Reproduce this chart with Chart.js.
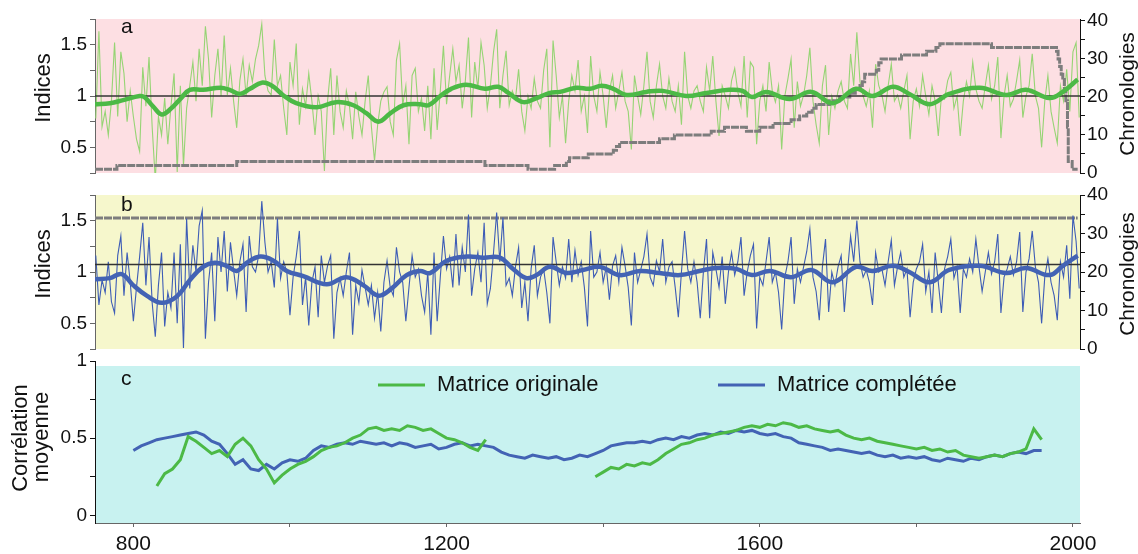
<!DOCTYPE html>
<html>
<head>
<meta charset="utf-8">
<script src="https://cdn.jsdelivr.net/npm/chart.js@4.4.1/dist/chart.umd.min.js"></script>
<style>
  html, body { margin: 0; padding: 0; background: #fff; }
  #wrap { position: relative; width: 1138px; height: 554px; overflow: hidden; }
  #wrap canvas { position: absolute; left: 0; }
</style>
</head>
<body>
<div id="wrap">
  <canvas id="panelA" width="1138" height="200" style="top:0px"></canvas>
  <canvas id="panelB" width="1138" height="190" style="top:180px"></canvas>
  <canvas id="panelC" width="1138" height="209" style="top:345px"></canvas>
</div>
<script>
// ---- data ----
// ring-width indices, one value every 4 years from 752
const indexStart = 752;
const indexStep = 4;

// panel a: original matrix
const origIndex = [
  0.78, 1.63, 0.70, 0.85, 0.62, 0.95, 1.52, 0.80, 1.43, 1.22,
  0.75, 1.05, 0.80, 0.58, 0.46, 1.28, 0.90, 1.38, 0.70, 0.18,
  0.80, 0.62, 0.98, 0.53, 0.90, 1.22, 0.26, 1.10, 0.32, 0.88,
  1.10, 1.33, 0.95, 1.46, 1.10, 1.68, 1.36, 0.79, 1.20, 1.46,
  1.00, 1.59, 1.01, 1.27, 0.95, 0.69, 1.15, 1.36, 1.00, 1.30,
  1.14, 1.36, 1.49, 1.70, 1.20, 1.05, 1.01, 1.55, 1.10, 1.20,
  0.88, 0.62, 1.33, 1.10, 1.51, 0.72, 1.07, 0.90, 1.22, 0.95,
  0.62, 1.00, 0.85, 0.27, 0.95, 1.27, 0.62, 1.20, 0.85, 0.69,
  1.05, 0.90, 0.58, 1.04, 0.80, 0.62, 0.95, 1.20, 0.70, 0.37,
  0.72, 0.95, 1.04, 1.09, 0.75, 0.62, 1.35, 1.51, 0.91, 1.10,
  0.53, 1.20, 1.27, 0.85, 0.98, 0.66, 1.10, 0.58, 1.27, 0.67,
  1.05, 1.49, 0.92, 1.20, 1.46, 1.14, 1.30, 0.88, 1.15, 1.57,
  0.79, 1.33, 1.07, 1.52, 1.30, 0.88, 1.10, 1.43, 1.65, 0.88,
  1.20, 1.44, 0.91, 1.05, 0.97, 1.26, 0.85, 0.66, 1.00, 0.88,
  1.17, 0.95, 0.88, 1.25, 1.46, 0.50, 1.54, 1.20, 0.79, 1.00,
  0.54, 0.95, 1.20, 1.05, 1.35, 0.85, 1.00, 0.64, 1.39, 1.00,
  0.85, 1.23, 1.00, 0.69, 1.05, 1.20, 0.88, 1.05, 1.23, 0.95,
  0.85, 0.48, 1.20, 1.00, 0.82, 1.10, 1.43, 0.95, 0.79, 1.10,
  1.31, 1.00, 0.88, 1.17, 0.95, 0.85, 1.10, 0.72, 1.43, 1.00,
  0.88, 1.05, 1.10, 0.95, 0.85, 1.28, 1.05, 1.39, 0.95, 0.61,
  1.10, 1.00, 0.88, 1.15, 1.27, 1.04, 0.90, 1.39, 0.79, 1.33,
  1.28, 0.53, 0.95, 1.10, 0.85, 1.33, 1.05, 0.94, 1.10, 0.48,
  1.00, 1.17, 1.36, 0.69, 1.14, 0.90, 1.01, 1.20, 1.47, 0.95,
  0.72, 0.54, 1.10, 1.30, 0.62, 1.00, 0.88, 1.05, 1.14, 0.95,
  0.88, 1.41, 1.10, 1.62, 1.14, 1.00, 0.90, 1.05, 0.69, 1.31,
  1.10, 1.01, 0.85, 1.10, 1.31, 0.95, 1.01, 0.88, 1.05, 1.20,
  0.58, 0.95, 1.07, 0.90, 1.20, 1.00, 0.82, 1.10, 0.95, 0.61,
  1.00, 0.97, 1.15, 1.23, 0.88, 1.00, 0.61, 0.95, 1.14, 1.00,
  1.33, 1.07, 0.95, 0.88, 1.10, 1.30, 0.97, 1.10, 1.38, 0.59,
  1.00, 1.20, 0.90, 0.97, 1.15, 1.35, 0.79, 1.00, 1.10, 1.41,
  1.00, 0.88, 0.50, 0.95, 1.20, 0.85, 0.69, 0.54, 1.10, 0.95,
  1.26, 0.85, 1.43, 1.52, 0.79
];

// panel b: completed matrix
const fullIndex = [
  1.16, 0.68, 0.92, 0.80, 1.10, 0.71, 0.60, 1.16, 1.35, 0.77,
  1.19, 0.90, 0.52, 0.85, 1.15, 1.48, 0.87, 1.34, 0.70, 0.37,
  0.87, 1.19, 0.47, 0.80, 0.65, 1.19, 0.50, 1.27, 0.26, 1.52,
  0.84, 1.26, 1.00, 1.45, 1.60, 0.35, 0.90, 1.19, 0.52, 1.34,
  1.00, 1.40, 0.81, 1.29, 1.02, 0.77, 1.10, 1.27, 0.61, 1.35,
  1.05, 1.00, 1.16, 1.69, 1.29, 1.00, 1.10, 0.85, 1.52, 0.94,
  1.10, 1.00, 0.58, 0.95, 1.15, 1.40, 0.68, 0.95, 0.48, 0.90,
  1.05, 0.56, 1.16, 0.90, 1.06, 1.16, 0.35, 0.80, 0.94, 0.77,
  1.00, 1.19, 0.39, 0.87, 0.70, 1.02, 0.85, 0.68, 0.87, 0.55,
  0.80, 0.42, 0.90, 1.11, 0.85, 0.77, 1.24, 1.00, 0.90, 0.52,
  0.85, 1.16, 0.95, 1.03, 0.77, 0.61, 1.00, 0.39, 1.19, 0.52,
  0.95, 1.35, 1.03, 1.15, 0.85, 1.37, 0.87, 1.24, 1.00, 1.56,
  0.77, 1.03, 1.19, 0.90, 1.48, 0.69, 0.84, 1.19, 1.58, 1.10,
  1.53, 0.87, 0.94, 0.77, 1.05, 1.24, 0.65, 0.90, 0.52, 1.03,
  1.26, 0.77, 0.95, 1.03, 0.80, 0.50, 1.34, 1.10, 0.87, 1.05,
  0.94, 1.32, 0.90, 1.21, 0.97, 1.10, 0.85, 0.47, 1.40, 0.95,
  1.00, 1.19, 0.90, 1.05, 0.73, 1.06, 1.16, 0.90, 1.24, 1.06,
  0.85, 0.48, 1.19, 0.90, 1.02, 1.15, 1.37, 0.95, 0.87, 1.11,
  1.00, 1.32, 0.90, 1.05, 1.10, 0.85, 0.56, 1.00, 1.40, 1.03,
  0.90, 1.10, 0.90, 0.55, 1.00, 1.32, 0.55, 1.19, 1.03, 0.85,
  1.15, 0.69, 1.00, 1.19, 0.97, 1.10, 1.34, 0.77, 1.00, 1.16,
  1.27, 0.45, 0.95, 0.87, 1.10, 1.34, 0.90, 1.00, 0.80, 0.44,
  0.95, 1.10, 1.34, 0.69, 1.03, 0.90, 1.05, 1.20, 1.42, 0.95,
  0.81, 0.53, 1.05, 1.32, 0.61, 1.00, 0.87, 1.05, 1.16, 0.61,
  1.00, 1.35, 1.10, 1.50, 1.10, 0.95, 1.02, 0.90, 0.68, 1.19,
  1.00, 1.03, 0.87, 1.10, 1.31, 0.87, 1.05, 1.19, 0.95, 1.03,
  0.56, 0.90, 1.03, 1.10, 1.27, 0.81, 1.00, 0.60, 1.19, 0.90,
  0.60, 1.03, 1.15, 1.32, 0.94, 1.05, 0.60, 1.03, 0.95, 1.13,
  1.00, 1.32, 1.05, 0.81, 1.00, 1.19, 0.98, 1.10, 1.37, 0.60,
  0.95, 1.03, 1.15, 0.97, 1.10, 1.39, 0.61, 1.00, 1.13, 1.40,
  1.05, 0.90, 0.50, 0.95, 1.13, 0.90, 0.77, 0.53, 1.10, 0.95,
  1.26, 0.74, 1.55, 1.30, 0.84
];

// smoothed curves
const origSmoothYears = [751, 770, 787, 808, 814, 825, 836, 847, 861, 872, 889, 911, 923, 936, 949, 964, 977, 991,
  1008, 1034, 1059, 1081, 1098, 1113, 1128, 1145, 1166, 1177, 1192, 1206, 1225, 1249, 1266, 1279, 1298, 1315,
  1332, 1345, 1366, 1383, 1398, 1413, 1430, 1455, 1476, 1506, 1532, 1561, 1578, 1590, 1608, 1638, 1666, 1693,
  1723, 1744, 1770, 1791, 1817, 1842, 1881, 1915, 1940, 1970, 1987, 2006];
const origSmooth = [0.92, 0.93, 0.96, 1.00, 0.99, 0.90, 0.82, 0.87, 0.98, 1.06, 1.06, 1.08, 1.06, 1.02, 1.07, 1.13, 1.10, 1.01,
  0.93, 0.89, 0.94, 0.91, 0.83, 0.75, 0.83, 0.91, 0.92, 0.91, 1.00, 1.07, 1.11, 1.07, 1.09, 1.03, 0.94, 0.98,
  1.03, 1.04, 1.08, 1.07, 1.10, 1.07, 1.01, 1.04, 1.05, 1.00, 1.03, 1.06, 1.05, 0.99, 1.04, 0.97, 1.04, 0.93,
  1.07, 1.00, 1.09, 1.02, 0.92, 1.02, 1.08, 1.01, 1.06, 0.98, 1.04, 1.16];

const fullSmoothYears = [751, 770, 785, 800, 817, 836, 855, 872, 889, 904, 919, 932, 945, 962, 979, 996,
  1017, 1047, 1072, 1094, 1113, 1130, 1149, 1166, 1179, 1200, 1226, 1247, 1268, 1285, 1302, 1315, 1332, 1353,
  1374, 1396, 1421, 1447, 1472, 1498, 1523, 1545, 1570, 1590, 1613, 1640, 1666, 1693, 1723, 1744, 1770, 1791,
  1817, 1842, 1881, 1915, 1940, 1970, 1987, 2006];
const fullSmooth = [0.93, 0.94, 0.98, 0.87, 0.77, 0.70, 0.76, 0.92, 1.05, 1.09, 1.06, 1.01, 1.09, 1.15, 1.11, 1.01,
  0.96, 0.88, 0.95, 0.87, 0.77, 0.84, 0.97, 1.01, 0.99, 1.11, 1.15, 1.14, 1.14, 1.03, 0.94, 0.97, 1.05, 0.99,
  1.02, 1.05, 0.97, 1.01, 0.99, 0.97, 1.01, 1.04, 1.03, 0.97, 1.01, 0.95, 1.02, 0.90, 1.05, 1.01, 1.06, 1.00,
  0.90, 1.02, 1.06, 0.99, 1.04, 0.97, 1.06, 1.16];

// number of chronologies (right axis)
const chronYears = [751, 779, 932, 1249, 1304, 1338, 1353, 1357, 1381, 1413, 1417, 1421, 1472, 1491, 1538, 1555,
  1583, 1600, 1617, 1640, 1651, 1660, 1667, 1672, 1689, 1702, 1715, 1722, 1728, 1731, 1734, 1749, 1752, 1755,
  1781, 1813, 1825, 1830, 1896, 1979, 1981, 1983, 1985, 1987, 1989, 1991, 1993, 1994, 1999, 2006];
const chronOrig = [1, 2, 3, 2, 1, 2, 3, 4, 5, 6, 7, 8, 9, 10, 11, 12,
  11, 12, 13, 14, 15, 16, 17, 18, 19, 20, 21, 22, 23, 24, 26, 27, 29, 30,
  31, 32, 33, 34, 33, 32, 30, 28, 26, 25, 22, 19, 12, 3, 1, 1];
const chronFullYears = [751, 2006];
const chronFull = [34, 34];

// reference levels
const refYears = [751, 2009];
const refOrig = [1, 1];
const refFull = [1.074, 1.074];

// panel c: running mean inter-series correlation
const corrFullStart = 800;
const corrFull = [
  0.42, 0.45, 0.47, 0.49, 0.50, 0.51, 0.52, 0.53, 0.54, 0.52,
  0.48, 0.46, 0.40, 0.33, 0.36, 0.30, 0.29, 0.33, 0.30, 0.34,
  0.36, 0.35, 0.37, 0.42, 0.45, 0.44, 0.46, 0.47, 0.46, 0.48,
  0.47, 0.46, 0.47, 0.45, 0.47, 0.46, 0.44, 0.45, 0.46, 0.43,
  0.44, 0.46, 0.47, 0.45, 0.46, 0.45, 0.44, 0.41, 0.39, 0.38,
  0.37, 0.39, 0.38, 0.37, 0.38, 0.36, 0.37, 0.39, 0.38, 0.40,
  0.42, 0.45, 0.46, 0.47, 0.47, 0.48, 0.47, 0.49, 0.50, 0.49,
  0.51, 0.50, 0.52, 0.53, 0.52, 0.54, 0.53, 0.55, 0.54, 0.55,
  0.53, 0.52, 0.53, 0.51, 0.50, 0.47, 0.46, 0.45, 0.44, 0.42,
  0.43, 0.42, 0.41, 0.40, 0.41, 0.39, 0.38, 0.39, 0.37, 0.38,
  0.37, 0.38, 0.36, 0.35, 0.37, 0.36, 0.35, 0.37, 0.36, 0.38,
  0.39, 0.38, 0.40, 0.41, 0.40, 0.42, 0.42
];
const corrOrigEarlyStart = 830;
const corrOrigEarly = [
  0.19, 0.27, 0.30, 0.36, 0.51, 0.48, 0.44, 0.40, 0.42, 0.38,
  0.46, 0.50, 0.45, 0.36, 0.30, 0.21, 0.26, 0.30, 0.33, 0.35,
  0.38, 0.42, 0.44, 0.45, 0.47, 0.50, 0.52, 0.56, 0.57, 0.55,
  0.56, 0.55, 0.58, 0.57, 0.55, 0.56, 0.53, 0.50, 0.49, 0.47,
  0.44, 0.42, 0.49
];
const corrOrigLateStart = 1390;
const corrOrigLate = [
  0.25, 0.28, 0.31, 0.30, 0.33, 0.32, 0.34, 0.33, 0.36, 0.40,
  0.43, 0.46, 0.47, 0.49, 0.50, 0.52, 0.53, 0.54, 0.55, 0.57,
  0.58, 0.57, 0.59, 0.58, 0.60, 0.59, 0.57, 0.58, 0.56, 0.55,
  0.54, 0.55, 0.52, 0.50, 0.49, 0.50, 0.48, 0.47, 0.46, 0.45,
  0.44, 0.43, 0.44, 0.42, 0.43, 0.41, 0.42, 0.39, 0.38, 0.37,
  0.38, 0.39, 0.38, 0.40, 0.41, 0.43, 0.56, 0.49
];
const corrStep = 10;

// axis ticks
const indexTicks = [0.25, 0.5, 0.75, 1, 1.25, 1.5, 1.75];
const indexLabels = [0.5, 1, 1.5];
const chronTicks = [0, 5, 10, 15, 20, 25, 30, 35, 40];
const chronLabels = [0, 10, 20, 30, 40];
const corrTicks = [0, 0.25, 0.5, 0.75, 1];
const corrLabels = [0, 0.5, 1];
const yearTicks = [800, 1000, 1200, 1400, 1600, 1800, 2000];
const yearLabels = [800, 1200, 1600, 2000];

// ---- helpers ----
const FONT = "'Liberation Sans', Arial, Helvetica, sans-serif";
Chart.defaults.font.family = FONT;
Chart.defaults.color = '#111';

const bySteps = (start, step, values) => values.map((v, i) => ({ x: start + i * step, y: v }));
const byPairs = (xs, ys) => xs.map((x, i) => ({ x: x, y: ys[i] }));

const COLORS = {
  greenThin: '#96d474',
  green: '#4cb946',
  blueThin: '#3d5cb6',
  blue: '#4363b4',
  gray: '#7d7d7d',
  ref: '#333333'
};

function lineSet(label, data, color, width, extra) {
  return Object.assign({
    label: label,
    data: data,
    borderColor: color,
    backgroundColor: color,
    borderWidth: width,
    pointRadius: 0,
    fill: false,
    tension: 0
  }, extra || {});
}

function xAxis(visible) {
  const ax = { type: 'linear', min: 751, max: 2009, display: visible };
  if (!visible) return ax;
  return Object.assign(ax, {
    position: 'bottom',
    afterFit: s => { s.height = 31; },
    afterBuildTicks: s => { s.ticks = yearTicks.map(v => ({ value: v })); },
    ticks: {
      autoSkip: false, maxRotation: 0, padding: 5,
      font: { size: 21 },
      callback: v => yearLabels.includes(v) ? String(v) : ''
    },
    grid: { drawOnChartArea: false, tickLength: 4, color: '#666' },
    border: { color: '#666', width: 1 }
  });
}

function leftAxis(min, max, ticks, labels, color) {
  return {
    position: 'left', min: min, max: max,
    afterFit: s => { s.width = 95; },
    afterBuildTicks: s => { s.ticks = ticks.map(v => ({ value: v })); },
    ticks: {
      autoSkip: false, padding: 3,
      font: { size: 19 },
      callback: v => labels.includes(v) ? String(v) : ''
    },
    grid: { drawOnChartArea: false, tickLength: 5, color: color },
    border: { color: color, width: 1 }
  };
}

function rightAxis(max) {
  return {
    position: 'right', min: 0, max: max,
    afterFit: s => { s.width = 58; },
    afterBuildTicks: s => { s.ticks = chronTicks.map(v => ({ value: v })); },
    ticks: {
      autoSkip: false, padding: 2,
      font: { size: 19 },
      callback: v => chronLabels.includes(v) ? String(v) : ''
    },
    grid: { drawOnChartArea: false, tickLength: 5, color: '#111' },
    border: { color: '#111', width: 1 }
  };
}

// panel background, panel letter, rotated axis titles, inline legend
const panelDecor = {
  id: 'panelDecor',
  beforeDraw(chart, args, opts) {
    const a = chart.chartArea;
    const ctx = chart.ctx;
    const top = a.top + (opts.insetTop || 0);
    ctx.save();
    ctx.fillStyle = opts.background;
    ctx.fillRect(a.left, top, a.right - a.left, a.bottom - top);
    ctx.restore();
  },
  afterDraw(chart, args, opts) {
    const ctx = chart.ctx;
    ctx.save();
    ctx.fillStyle = '#111';
    ctx.font = '21px ' + FONT;
    ctx.textAlign = 'left';
    ctx.textBaseline = 'alphabetic';
    ctx.fillText(opts.letter.text, opts.letter.x, opts.letter.y);

    (opts.titles || []).forEach(t => {
      ctx.save();
      ctx.translate(t.x, t.y);
      ctx.rotate(-Math.PI / 2);
      ctx.font = t.size + 'px ' + FONT;
      ctx.textAlign = 'center';
      ctx.textBaseline = 'middle';
      ctx.fillText(t.text, 0, 0);
      ctx.restore();
    });

    (opts.legend || []).forEach(item => {
      const ds = chart.data.datasets[item.dataset];
      ctx.strokeStyle = ds.borderColor;
      ctx.lineWidth = 3;
      ctx.beginPath();
      ctx.moveTo(item.x, item.y);
      ctx.lineTo(item.x + 47, item.y);
      ctx.stroke();
      ctx.font = '22px ' + FONT;
      ctx.textAlign = 'left';
      ctx.textBaseline = 'middle';
      ctx.fillText(ds.label, item.x + 59, item.y);
    });
    ctx.restore();
  }
};

function baseOptions(padTop, padBottom, padRight) {
  return {
    responsive: false,
    animation: false,
    devicePixelRatio: 1,
    layout: { padding: { top: padTop, bottom: padBottom, left: 0, right: padRight } },
    plugins: { legend: { display: false }, tooltip: { enabled: false } }
  };
}

// ---- panel a ----
const optsA = baseOptions(19, 27, 0);
optsA.scales = { x: xAxis(false), y: leftAxis(0.25, 1.75, indexTicks, indexLabels, '#666'), y2: rightAxis(40.5) };
optsA.plugins.panelDecor = {
  background: '#fddfe3',
  letter: { text: 'a', x: 121, y: 33 },
  titles: [
    { text: 'Indices', x: 44, y: 88, size: 22 },
    { text: 'Chronologies', x: 1128, y: 94, size: 21 }
  ]
};
new Chart(document.getElementById('panelA'), {
  type: 'line',
  data: {
    datasets: [
      lineSet('Indice lissé', byPairs(origSmoothYears, origSmooth), COLORS.green, 4.5, { yAxisID: 'y', tension: 0.4 }),
      lineSet('Référence', byPairs(refYears, refOrig), COLORS.ref, 1.5, { yAxisID: 'y' }),
      lineSet('Chronologies', byPairs(chronYears, chronOrig), COLORS.gray, 3, { yAxisID: 'y2', stepped: 'before', borderDash: [8, 1] }),
      lineSet('Indice', bySteps(indexStart, indexStep, origIndex), COLORS.greenThin, 1.1, { yAxisID: 'y' })
    ]
  },
  options: optsA,
  plugins: [panelDecor]
});

// ---- panel b ----
const optsB = baseOptions(15, 21, 0);
optsB.scales = { x: xAxis(false), y: leftAxis(0.25, 1.75, indexTicks, indexLabels, '#666'), y2: rightAxis(40) };
optsB.plugins.panelDecor = {
  background: '#f6f7cc',
  letter: { text: 'b', x: 121, y: 31 },
  titles: [
    { text: 'Indices', x: 44, y: 84, size: 22 },
    { text: 'Chronologies', x: 1128, y: 94, size: 21 }
  ]
};
new Chart(document.getElementById('panelB'), {
  type: 'line',
  data: {
    datasets: [
      lineSet('Indice lissé', byPairs(fullSmoothYears, fullSmooth), COLORS.blue, 4.5, { yAxisID: 'y', tension: 0.4 }),
      lineSet('Référence', byPairs(refYears, refFull), COLORS.ref, 1.5, { yAxisID: 'y' }),
      lineSet('Indice', bySteps(indexStart, indexStep, fullIndex), COLORS.blueThin, 1.1, { yAxisID: 'y' }),
      lineSet('Chronologies', byPairs(chronFullYears, chronFull), COLORS.gray, 3, { yAxisID: 'y2', borderDash: [8, 1] })
    ]
  },
  options: optsB,
  plugins: [panelDecor]
});

// ---- panel c ----
const optsC = baseOptions(16, 0, 58);
optsC.scales = { x: xAxis(true), y: leftAxis(-0.05, 1, corrTicks, corrLabels, '#111') };
optsC.plugins.panelDecor = {
  background: '#c8f2f0',
  insetTop: 5,
  letter: { text: 'c', x: 121, y: 40 },
  titles: [
    { text: 'Corrélation', x: 21, y: 93, size: 22 },
    { text: 'moyenne', x: 42, y: 92, size: 22 }
  ],
  legend: [
    { dataset: 0, x: 378, y: 40 },
    { dataset: 2, x: 718, y: 40 }
  ]
};
new Chart(document.getElementById('panelC'), {
  type: 'line',
  data: {
    datasets: [
      lineSet('Matrice originale', bySteps(corrOrigEarlyStart, corrStep, corrOrigEarly), COLORS.green, 3),
      lineSet('Matrice originale (suite)', bySteps(corrOrigLateStart, corrStep, corrOrigLate), COLORS.green, 3),
      lineSet('Matrice complétée', bySteps(corrFullStart, corrStep, corrFull), COLORS.blue, 3)
    ]
  },
  options: optsC,
  plugins: [panelDecor]
});
</script>
</body>
</html>
